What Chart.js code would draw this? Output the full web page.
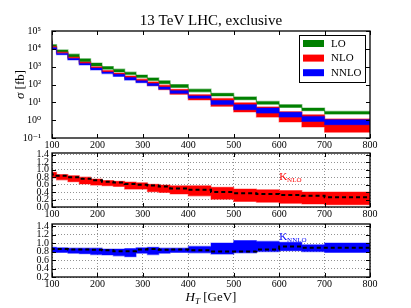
<!DOCTYPE html>
<html>
<head>
<meta charset="utf-8">
<script src="https://cdn.jsdelivr.net/npm/chart.js@4.4.0/dist/chart.umd.min.js"></script>
<style>
  body { margin: 0; background: #fff; width: 411px; height: 308px; overflow: hidden; position: relative; }
  canvas { position: absolute; left: 0; }
</style>
</head>
<body>
<canvas id="topChart" width="411" height="150" style="top:0px"></canvas>
<canvas id="midChart" width="411" height="70" style="top:150px"></canvas>
<canvas id="botChart" width="411" height="88" style="top:220px"></canvas>
<script>
// bin edges in H_T [GeV]
const edges = [100, 110, 135, 160, 185, 210, 235, 260, 285, 310, 335, 360, 400, 450, 500, 550, 600, 650, 700, 750, 800];

// cross section bands [fb], one value per bin
const loLow    = [2.75e4, 1.32e4, 6.5e3, 3.4e3, 1.9e3, 1100, 720, 510, 360, 245, 166, 110, 68, 39, 23, 14, 7.9, 5.2, 3.4, 2.2];
const loHigh   = [3.8e4, 1.7e4, 8.7e3, 5.0e3, 2.75e3, 1600, 1020, 720, 490, 340, 234, 162, 100, 55, 32, 20, 11.2, 7.4, 4.8, 3.1];
const nloLow   = [2.78e4, 1.15e4, 5.4e3, 2.77e3, 1.42e3, 778, 485, 330, 200, 140, 85, 52, 28, 13.5, 6, 2.9, 1.5, 0.8, 0.42, 0.21];
const nloHigh  = [3.14e4, 1.37e4, 6.5e3, 3.42e3, 1.83e3, 989, 604, 440, 300, 200, 140, 92, 54, 27, 16.5, 9.5, 5.5, 3.0, 2.0, 1.17];
const nnloLow  = [2.1e4, 0.98e4, 4.7e3, 2.4e3, 1.25e3, 660, 410, 285, 178, 125, 85, 55, 32, 17, 7.5, 3.9, 2.5, 1.5, 0.85, 0.56];
const nnloHigh = [2.7e4, 1.16e4, 5.5e3, 2.85e3, 1.52e3, 830, 500, 370, 245, 160, 112, 72, 45, 23, 12.5, 7.4, 4.8, 2.75, 1.62, 1.07];

// K factors
const knloLow   = [0.86, 0.78, 0.73, 0.68, 0.62, 0.59, 0.57, 0.55, 0.48, 0.48, 0.41, 0.39, 0.35, 0.30, 0.21, 0.15, 0.13, 0.10, 0.08, 0.06];
const knloMid   = [0.93, 0.87, 0.84, 0.80, 0.76, 0.72, 0.68, 0.66, 0.62, 0.60, 0.58, 0.55, 0.50, 0.46, 0.40, 0.37, 0.35, 0.32, 0.30, 0.26];
const knloHigh  = [0.97, 0.93, 0.87, 0.84, 0.80, 0.75, 0.71, 0.69, 0.67, 0.65, 0.61, 0.59, 0.57, 0.57, 0.53, 0.48, 0.46, 0.44, 0.40, 0.40];
const knnloLow  = [0.78, 0.78, 0.78, 0.76, 0.75, 0.73, 0.72, 0.70, 0.68, 0.76, 0.73, 0.76, 0.78, 0.77, 0.74, 0.77, 0.80, 0.82, 0.80, 0.78];
const knnloMid  = [0.89, 0.86, 0.86, 0.85, 0.85, 0.84, 0.83, 0.81, 0.81, 0.85, 0.86, 0.84, 0.85, 0.83, 0.80, 0.80, 0.85, 0.92, 0.89, 0.89];
const knnloHigh = [0.92, 0.90, 0.89, 0.88, 0.88, 0.88, 0.86, 0.86, 0.87, 0.89, 0.90, 0.88, 0.88, 0.92, 1.00, 1.06, 1.04, 1.02, 0.96, 1.00];

// ticks and labels
const xTicks = [100, 200, 300, 400, 500, 600, 700, 800];
const sigmaTicks = [0.1, 1, 10, 100, 1000, 1e4, 1e5];
const sigmaTickLabels = ['10⁻¹', '10⁰', '10¹', '10²', '10³', '10⁴', '10⁵'];
const knloTicks = [0.0, 0.2, 0.4, 0.6, 0.8, 1.0, 1.2, 1.4];
const knnloTicks = [0.2, 0.4, 0.6, 0.8, 1.0, 1.2, 1.4];
const legendNames = ['LO', 'NLO', 'NNLO'];

const GREEN = '#008000', RED = '#ff0000', BLUE = '#0000ff';
const SERIF = '"Liberation Serif", "DejaVu Serif", serif';

function steps(vals) {
  const pts = vals.map((v, i) => ({ x: edges[i], y: v }));
  pts.push({ x: edges[edges.length - 1], y: vals[vals.length - 1] });
  return pts;
}

function band(high, low, color, edge) {
  return [
    { data: steps(high), stepped: 'after', fill: '+1', backgroundColor: color, borderColor: edge, borderWidth: 1.2, pointRadius: 0 },
    { data: steps(low), stepped: 'after', fill: false, borderColor: edge, borderWidth: 1.2, pointRadius: 0 }
  ];
}

function dashed(vals) {
  return { data: steps(vals), stepped: 'after', fill: false, borderColor: '#000', borderWidth: 2, borderDash: [4, 3], pointRadius: 0 };
}

// box around plot + small inward ticks
const framePlugin = {
  id: 'frame',
  afterDatasetsDraw(chart) {
    const { ctx, chartArea: a, scales } = chart;
    ctx.save();
    ctx.strokeStyle = '#000';
    ctx.lineWidth = 1;
    scales.x.ticks.forEach(t => {
      const px = Math.round(scales.x.getPixelForValue(t.value)) + 0.5;
      ctx.beginPath();
      ctx.moveTo(px, a.bottom); ctx.lineTo(px, a.bottom - 4);
      ctx.moveTo(px, a.top); ctx.lineTo(px, a.top + 4);
      ctx.stroke();
    });
    scales.y.ticks.forEach(t => {
      const py = Math.round(scales.y.getPixelForValue(t.value)) + 0.5;
      ctx.beginPath();
      ctx.moveTo(a.left, py); ctx.lineTo(a.left + 4, py);
      ctx.moveTo(a.right, py); ctx.lineTo(a.right - 4, py);
      ctx.stroke();
    });
    ctx.lineWidth = 1.3;
    ctx.strokeRect(a.left, a.top, a.right - a.left, a.bottom - a.top);
    ctx.restore();
  }
};

const topText = {
  id: 'topText',
  afterDraw(chart) {
    const { ctx, chartArea: a } = chart;
    ctx.save();
    ctx.fillStyle = '#000';
    ctx.font = '15px ' + SERIF;
    ctx.textAlign = 'center';
    ctx.textBaseline = 'middle';
    ctx.fillText('13 TeV LHC, exclusive', (a.left + a.right) / 2, 21);

    // y label: sigma [fb]
    ctx.translate(21, (a.top + a.bottom) / 2);
    ctx.rotate(-Math.PI / 2);
    ctx.font = 'italic 13px ' + SERIF;
    const w1 = ctx.measureText('σ').width;
    ctx.font = '13px ' + SERIF;
    const w2 = ctx.measureText(' [fb]').width;
    ctx.textAlign = 'left';
    ctx.font = 'italic 13px ' + SERIF;
    ctx.fillText('σ', -(w1 + w2) / 2, 0);
    ctx.font = '13px ' + SERIF;
    ctx.fillText(' [fb]', -(w1 + w2) / 2 + w1, 0);
    ctx.restore();

    // legend box
    const x0 = a.right - 71, y0 = a.top + 4, w = 66, h = 47;
    const colors = [GREEN, RED, BLUE];
    ctx.save();
    ctx.fillStyle = '#fff';
    ctx.fillRect(x0, y0, w, h);
    ctx.strokeStyle = '#000';
    ctx.lineWidth = 1;
    ctx.strokeRect(x0 + 0.5, y0 + 0.5, w, h);
    legendNames.forEach((name, i) => {
      const cy = y0 + 8.5 + i * 14.6;
      ctx.fillStyle = colors[i];
      ctx.fillRect(x0 + 4, cy - 3.5, 21, 7);
      ctx.fillStyle = '#000';
      ctx.font = '11px ' + SERIF;
      ctx.textAlign = 'left';
      ctx.textBaseline = 'middle';
      ctx.fillText(name, x0 + 32, cy + 0.5);
    });
    ctx.restore();
  }
};

function kLabel(sub, color, xv, yv) {
  return {
    id: 'klabel',
    afterDatasetsDraw(chart) {
      const { ctx, scales } = chart;
      const px = scales.x.getPixelForValue(xv), py = scales.y.getPixelForValue(yv);
      ctx.save();
      ctx.fillStyle = color;
      ctx.textBaseline = 'alphabetic';
      ctx.font = '11px ' + SERIF;
      ctx.fillText('K', px, py + 4);
      const kw = ctx.measureText('K').width;
      ctx.font = '7px ' + SERIF;
      ctx.fillText(sub, px + kw, py + 6);
      ctx.restore();
    }
  };
}

const xLabel = {
  id: 'xLabel',
  afterDraw(chart) {
    const { ctx, chartArea: a } = chart;
    ctx.save();
    ctx.fillStyle = '#000';
    ctx.textBaseline = 'alphabetic';
    ctx.font = 'italic 13px ' + SERIF;
    const wH = ctx.measureText('H').width;
    ctx.font = 'italic 9px ' + SERIF;
    const wT = ctx.measureText('T').width;
    ctx.font = '13px ' + SERIF;
    const wG = ctx.measureText(' [GeV]').width;
    let x = (a.left + a.right) / 2 - (wH + wT + wG) / 2;
    const y = 81;
    ctx.font = 'italic 13px ' + SERIF;
    ctx.fillText('H', x, y);
    ctx.font = 'italic 9px ' + SERIF;
    ctx.fillText('T', x + wH, y + 3);
    ctx.font = '13px ' + SERIF;
    ctx.fillText(' [GeV]', x + wH + wT, y);
    ctx.restore();
  }
};

function xScale(height, grid) {
  return {
    type: 'linear', min: 100, max: 800,
    afterBuildTicks: s => { s.ticks = xTicks.map(v => ({ value: v })); },
    afterFit: s => { s.height = height; s.paddingLeft = 0; s.paddingRight = 0; },
    ticks: { color: '#000', font: { family: SERIF, size: 10 }, padding: 1, maxRotation: 0, autoSkip: false },
    grid: { display: grid, color: '#777', lineWidth: 0.8, drawTicks: false },
    border: { display: false, dash: [1, 2] }
  };
}

function yScale(extra) {
  return Object.assign({
    afterFit: s => { s.width = 52; s.paddingTop = 0; s.paddingBottom = 0; },
    grid: { display: true, color: '#777', lineWidth: 0.8, drawTicks: false },
    border: { display: false, dash: [1, 2] }
  }, extra);
}

function yTickOpts(cb) {
  return { color: '#000', font: { family: SERIF, size: 10 }, padding: 3, autoSkip: false, callback: cb };
}

const common = {
  responsive: false,
  animation: false,
  devicePixelRatio: 1,
  plugins: { legend: { display: false }, tooltip: { enabled: false } }
};

new Chart(document.getElementById('topChart'), {
  type: 'line',
  data: { datasets: [...band(nnloHigh, nnloLow, BLUE, 'rgba(0,0,255,0.45)'), ...band(nloHigh, nloLow, RED, 'rgba(255,0,0,0.45)'), ...band(loHigh, loLow, GREEN, 'rgba(0,128,0,0.45)')] },
  options: Object.assign({}, common, {
    layout: { padding: { top: 31, left: 0, right: 41, bottom: 0 } },
    scales: {
      x: xScale(12, false),
      y: yScale({
        type: 'logarithmic', min: 0.1, max: 1e5,
        afterBuildTicks: s => { s.ticks = sigmaTicks.map(v => ({ value: v })); },
        ticks: yTickOpts(v => { const i = sigmaTicks.findIndex(t => Math.abs(t - v) / t < 1e-6); return i >= 0 ? sigmaTickLabels[i] : ''; }),
        grid: { display: false }
      })
    }
  }),
  plugins: [framePlugin, topText]
});

new Chart(document.getElementById('midChart'), {
  type: 'line',
  data: { datasets: [dashed(knloMid), ...band(knloHigh, knloLow, RED, 'rgba(255,0,0,0.45)')] },
  options: Object.assign({}, common, {
    layout: { padding: { top: 3, left: 0, right: 41, bottom: 0 } },
    scales: {
      x: xScale(13, true),
      y: yScale({
        type: 'linear', min: 0, max: 1.45,
        afterBuildTicks: s => { s.ticks = knloTicks.map(v => ({ value: v })); },
        ticks: yTickOpts(v => v.toFixed(1))
      })
    }
  }),
  plugins: [framePlugin, kLabel('NLO', RED, 600, 0.84)]
});

new Chart(document.getElementById('botChart'), {
  type: 'line',
  data: { datasets: [dashed(knnloMid), ...band(knnloHigh, knnloLow, BLUE, 'rgba(0,0,255,0.45)')] },
  options: Object.assign({}, common, {
    layout: { padding: { top: 4, left: 0, right: 41, bottom: 0 } },
    scales: {
      x: xScale(31, true),
      y: yScale({
        type: 'linear', min: 0.2, max: 1.45,
        afterBuildTicks: s => { s.ticks = knnloTicks.map(v => ({ value: v })); },
        ticks: yTickOpts(v => v.toFixed(1))
      })
    }
  }),
  plugins: [framePlugin, kLabel('NNLO', BLUE, 600, 1.17), xLabel]
});
</script>
</body>
</html>
